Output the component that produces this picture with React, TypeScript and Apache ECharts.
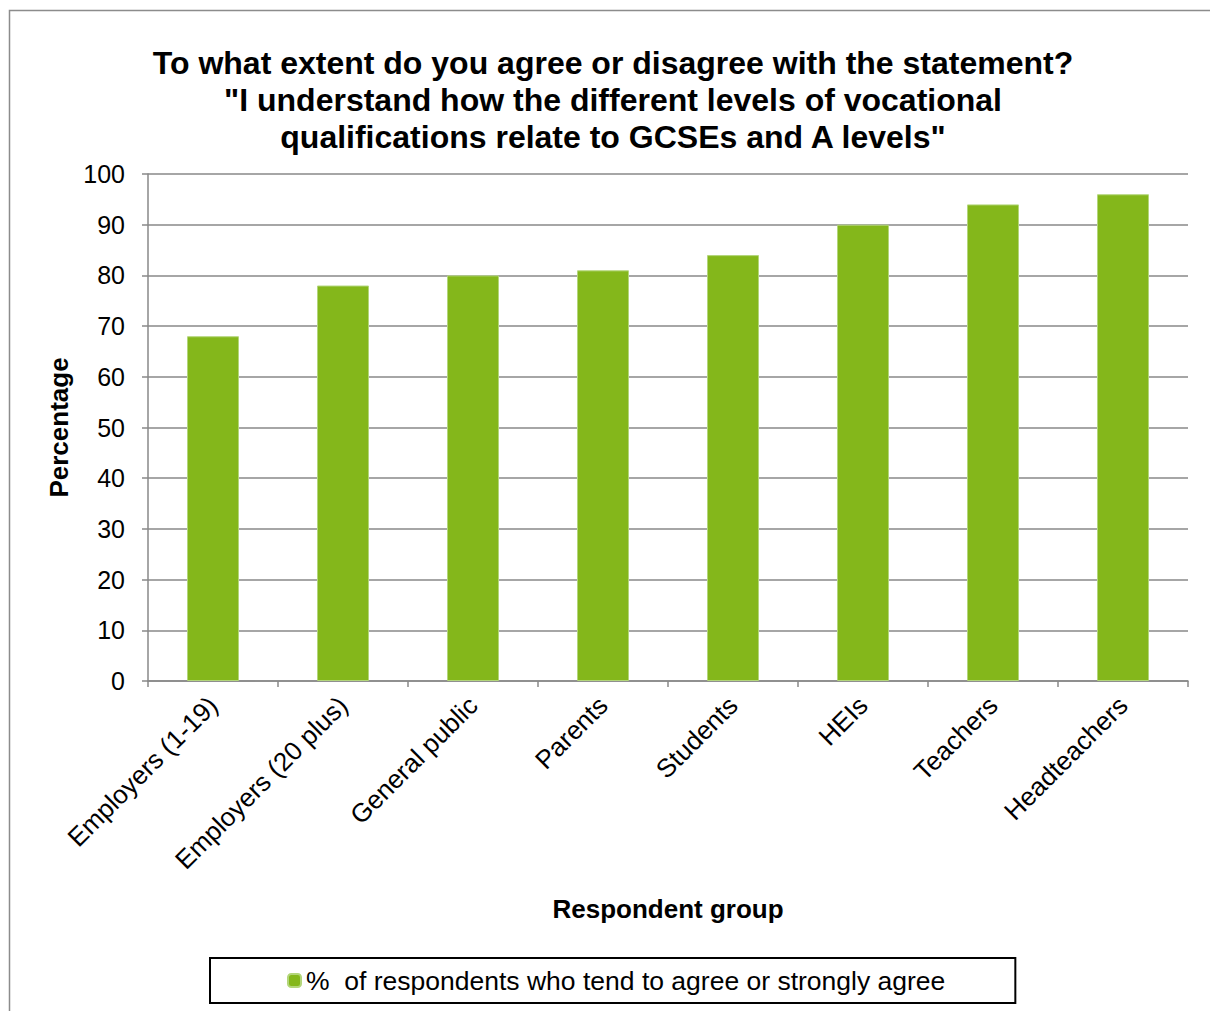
import React, { useEffect, useRef } from "react";
import * as echarts from "echarts";

const categories = [
  "Employers (1-19)",
  "Employers (20 plus)",
  "General public",
  "Parents",
  "Students",
  "HEIs",
  "Teachers",
  "Headteachers",
];
const agreeValues = [68, 78, 80, 81, 84, 90, 94, 96];
const seriesName = "%  of respondents who tend to agree or strongly agree";
const titleText =
  'To what extent do you agree or disagree with the statement?\n"I understand how the different levels of vocational\nqualifications relate to GCSEs and A levels"';

const FONT = "Liberation Sans, Arial, Helvetica, sans-serif";

export default function App() {
  const ref = useRef<HTMLDivElement>(null);
  useEffect(() => {
    document.body.style.margin = "0";
    const chart = echarts.init(ref.current!, null, { renderer: "svg" });
    chart.setOption({
      animation: false,
      backgroundColor: "#ffffff",
      textStyle: { fontFamily: FONT },
      title: {
        text: titleText,
        left: 608,
        top: 39,
        textAlign: "center",
        textStyle: {
          fontFamily: FONT,
          fontSize: 32,
          fontWeight: "bold",
          color: "#000",
          lineHeight: 37,
        },
      },
      graphic: [
        {
          type: "rect",
          shape: { x: 9.5, y: 10.5, width: 1400, height: 1200 },
          style: { fill: "none", stroke: "#8c8c8c", lineWidth: 1.5 },
          silent: true,
          z: -10,
        },
      ],
      legend: {
        data: [seriesName],
        bottom: 8,
        left: 210,
        itemWidth: 13,
        itemHeight: 13,
        itemGap: 8,
        borderColor: "#000",
        borderWidth: 2,
        padding: [9, 70, 9, 77],
        textStyle: { fontFamily: FONT, fontSize: 26.5, color: "#000" },
      },
      grid: { left: 148, right: 22, top: 174, bottom: 330 },
      xAxis: {
        type: "category",
        data: categories,
        name: "Respondent group",
        nameLocation: "middle",
        nameGap: 215,
        nameTextStyle: { fontFamily: FONT, fontSize: 26, fontWeight: "bold", color: "#000" },
        axisLine: { show: true, lineStyle: { color: "#888", width: 1.5 } },
        axisTick: { show: true, length: 6, alignWithLabel: false, lineStyle: { color: "#888", width: 1.5 } },
        axisLabel: {
          rotate: 45,
          margin: 20,
          fontSize: 26,
          color: "#000",
          fontFamily: FONT,
          interval: 0,
        },
      },
      yAxis: {
        type: "value",
        min: 0,
        max: 100,
        interval: 10,
        name: "Percentage",
        nameLocation: "middle",
        nameGap: 74,
        nameTextStyle: { fontFamily: FONT, fontSize: 26, fontWeight: "bold", color: "#000" },
        axisLine: { show: true, lineStyle: { color: "#888", width: 1.5 } },
        axisTick: { show: true, length: 6, lineStyle: { color: "#888", width: 1.5 } },
        axisLabel: { fontSize: 25, color: "#000", margin: 23, fontFamily: FONT },
        splitLine: { show: true, lineStyle: { color: "#888", width: 1.5 } },
      },
      series: [
        {
          name: seriesName,
          type: "bar",
          data: agreeValues,
          barWidth: "40%",
          itemStyle: { color: "#84B71B", borderColor: "#B3D67A", borderWidth: 1 },
        },
      ],
    });
    return () => chart.dispose();
  }, []);
  return <div ref={ref} style={{ width: 1210, height: 1011 }} />;
}
